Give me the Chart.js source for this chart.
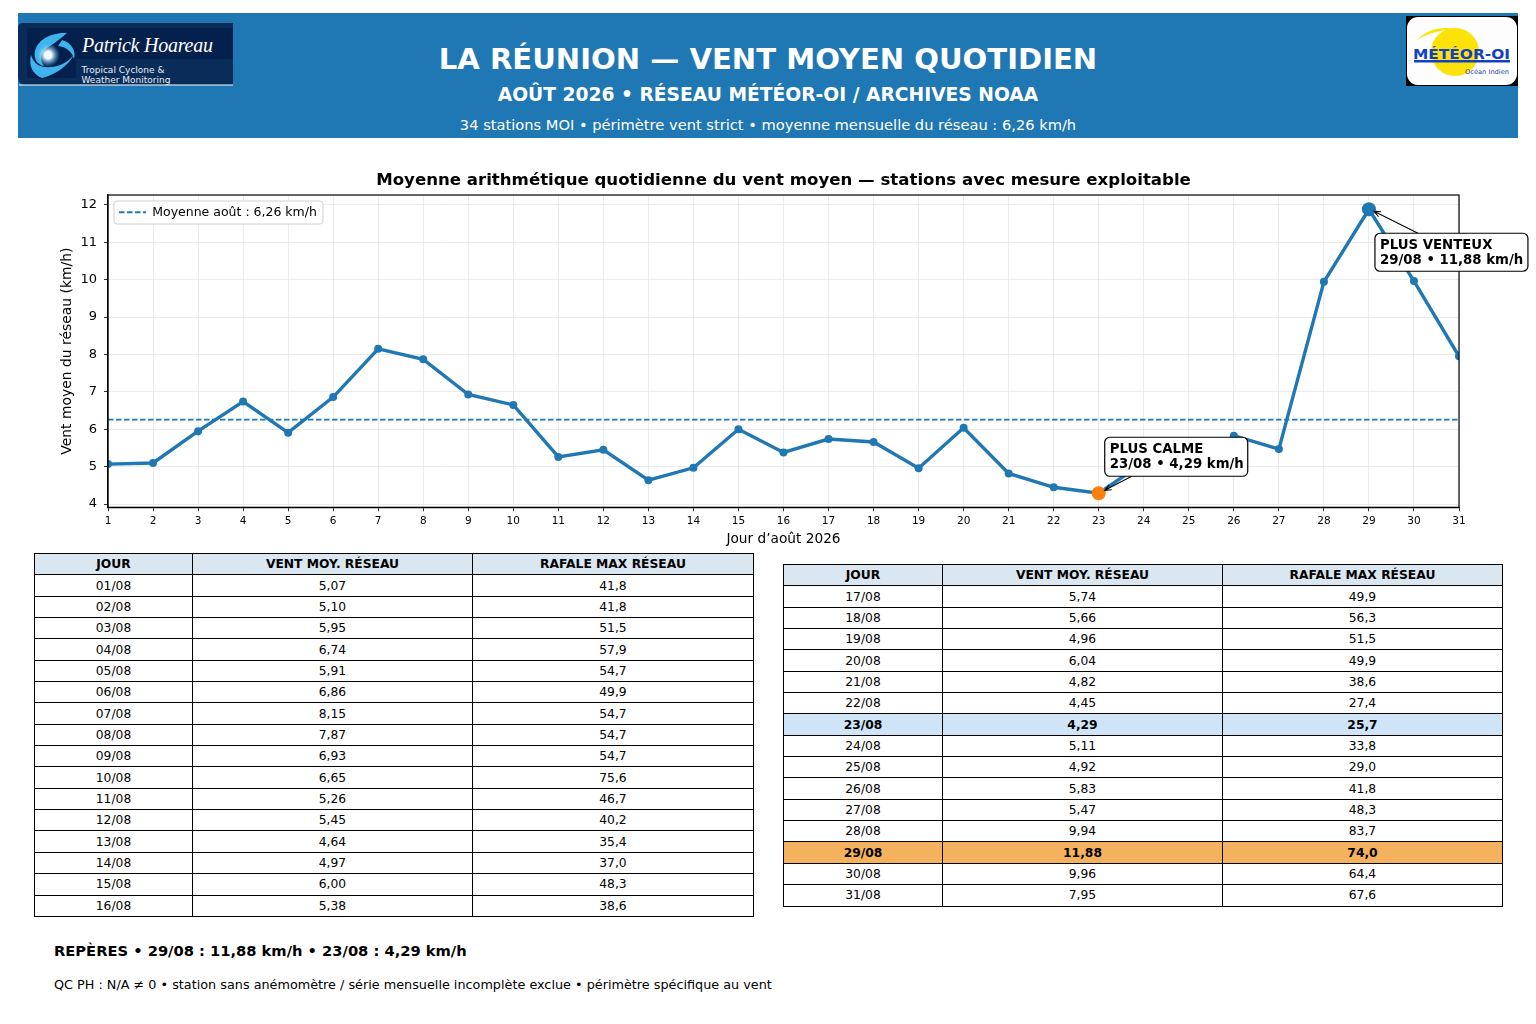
<!DOCTYPE html>
<html lang="fr">
<head>
<meta charset="utf-8">
<title>La Réunion — vent moyen quotidien</title>
<script src="https://cdn.jsdelivr.net/npm/chart.js@4"></script>
<style>
  html, body { margin: 0; padding: 0; background: #fff; }
  body { position: relative; width: 1536px; height: 1024px; overflow: hidden; font-family: "DejaVu Sans", sans-serif; color: #000; }
  .abs { position: absolute; }
  #banner { left: 18px; top: 13px; width: 1500px; height: 125px; background: #1f77b4; }
  .head { left: 18px; width: 1500px; text-align: center; color: #fff; white-space: nowrap; transform: translateY(-50%); }
  #h1 { top: 59px; font-size: 29.1px; font-weight: bold; }
  #h2 { top: 94px; font-size: 18.7px; font-weight: bold; }
  #h3 { top: 123.5px; font-size: 14.65px; }
  #chartBox { left: 0; top: 160px; width: 1536px; height: 390px; }
  table { position: absolute; border-collapse: collapse; table-layout: fixed; font-size: 12.3px; }
  td, th { box-sizing: border-box; border: 1px solid #000; padding: 0; text-align: center; height: 21.35px; line-height: 12px; }
  th { background: #dae6f0; }
  tr.calm td { background: #cfe4f7; font-weight: bold; }
  tr.windy td { background: #f4b25f; font-weight: bold; }
  #repere { left: 54px; top: 949.5px; font-size: 14.7px; font-weight: bold; transform: translateY(-50%); white-space: nowrap; }
  #qc { left: 54px; top: 984px; font-size: 12.8px; transform: translateY(-50%); white-space: nowrap; }
</style>
</head>
<body>
<div id="banner" class="abs"></div>

<svg class="abs" style="left:18px;top:23px" width="216" height="64" viewBox="0 0 216 64">
  <defs>
    <radialGradient id="eye"><stop offset="0.3" stop-color="#f2fbff"/><stop offset="1" stop-color="#3db4ee" stop-opacity="0"/></radialGradient>
  </defs>
  <path d="M5 0H215V62H8Q0 62 0 54V5Q0 0 5 0Z" fill="#0a2c58"/>
  <rect x="9" y="5" width="206" height="31" fill="#04204c"/>
  <rect x="9" y="5" width="49" height="50" fill="#04204c"/>
  <path d="M1 62H215" stroke="#fff" stroke-width="1.2"/>
  <g fill="#3db4ee">
    <path d="M49 10C36 9 20 15 17 28C15 36 20 42 26 43C20 36 24 27 32 23C37 20 43 15 49 10Z"/>
    <path d="M13 32C10 44 16 52 24 55C36 52 50 44 57 30C52 38 42 44 32 44C24 45 16 42 13 32Z"/>
    <path d="M44 17C54 20 58 28 56 36C54 28 48 24 40 23Z"/>
  </g>
  <circle cx="30" cy="32" r="12" fill="url(#eye)"/>
  <text x="64" y="29" font-family="'Liberation Serif', serif" font-style="italic" font-size="20" fill="#fff" textLength="131" lengthAdjust="spacing">Patrick Hoareau</text>
  <text x="63.500" y="49.500" font-family="'DejaVu Sans', sans-serif" font-size="9" fill="#e6eef6" textLength="83">Tropical Cyclone &amp;</text>
  <text x="63.500" y="59.500" font-family="'DejaVu Sans', sans-serif" font-size="9" fill="#e6eef6" textLength="89">Weather Monitoring</text>
</svg>

<svg class="abs" style="left:1406px;top:16px" width="112" height="70" viewBox="0 0 112 70">
  <rect width="112" height="70" fill="#000"/>
  <rect x="1" y="1" width="110" height="68" rx="11" fill="#fdfdfd"/>
  <circle cx="49" cy="36" r="24" fill="#fde20a"/>
  <path d="M11 24C21 13 36 10 48 13C36 14 22 17 11 24Z" fill="#fde20a"/>
  <text x="7" y="43" font-family="'DejaVu Sans', sans-serif" font-weight="bold" font-size="14.500" fill="#1240c4" textLength="97" lengthAdjust="spacingAndGlyphs">MÉTÉOR-OI</text>
  <rect x="8" y="44" width="96" height="2.500" fill="#1240c4"/>
  <text x="59" y="58" font-family="'DejaVu Sans', sans-serif" font-size="6.500" fill="#1f3fa8" textLength="44" lengthAdjust="spacingAndGlyphs">Océan Indien</text>
</svg>

<div id="h1" class="abs head">LA RÉUNION — VENT MOYEN QUOTIDIEN</div>
<div id="h2" class="abs head">AOÛT 2026 • RÉSEAU MÉTÉOR-OI / ARCHIVES NOAA</div>
<div id="h3" class="abs head">34 stations MOI • périmètre vent strict • moyenne mensuelle du réseau : 6,26 km/h</div>

<div id="chartBox" class="abs"><canvas id="windChart" width="1536" height="390"></canvas></div>

<table id="tableLeft" style="left:34px;top:553px;width:719px"></table>
<table id="tableRight" style="left:783px;top:564px;width:719px"></table>

<div id="repere" class="abs">REPÈRES • 29/08 : 11,88 km/h • 23/08 : 4,29 km/h</div>
<div id="qc" class="abs">QC PH : N/A ≠ 0 • station sans anémomètre / série mensuelle incomplète exclue • périmètre spécifique au vent</div>

<script>
const days = [1,2,3,4,5,6,7,8,9,10,11,12,13,14,15,16,17,18,19,20,21,22,23,24,25,26,27,28,29,30,31];
const windAvg = [5.07,5.10,5.95,6.74,5.91,6.86,8.15,7.87,6.93,6.65,5.26,5.45,4.64,4.97,6.00,5.38,
                 5.74,5.66,4.96,6.04,4.82,4.45,4.29,5.11,4.92,5.83,5.47,9.94,11.88,9.96,7.95];
const gustMax = [41.8,41.8,51.5,57.9,54.7,49.9,54.7,54.7,54.7,75.6,46.7,40.2,35.4,37.0,48.3,38.6,
                 49.9,56.3,51.5,49.9,38.6,27.4,25.7,33.8,29.0,41.8,48.3,83.7,74.0,64.4,67.6];
const tableHeaders = ["JOUR", "VENT MOY. RÉSEAU", "RAFALE MAX RÉSEAU"];
const monthMean = 6.26;
const calmDay = 23;
const windyDay = 29;

const BLUE = "#1f77b4";
const ORANGE = "#ff7f0e";

const comma = (v, d) => v.toFixed(d).replace(".", ",");
const dayLabel = d => String(d).padStart(2, "0") + "/08";
const pointOf = d => ({ x: d, y: windAvg[days.indexOf(d)] });

// tables
function fillTable(id, from, to, colWidths) {
  let html = "<colgroup>" + colWidths.map(w => `<col style="width:${w}px">`).join("") + "</colgroup>";
  html += "<tr>" + tableHeaders.map(h => `<th>${h}</th>`).join("") + "</tr>";
  days.forEach((d, i) => {
    if (d < from || d > to) return;
    const cls = d === calmDay ? "calm" : d === windyDay ? "windy" : "";
    html += `<tr class="${cls}"><td>${dayLabel(d)}</td><td>${comma(windAvg[i], 2)}</td><td>${comma(gustMax[i], 1)}</td></tr>`;
  });
  document.getElementById(id).innerHTML = html;
}
fillTable("tableLeft", 1, 16, [158, 280, 281]);
fillTable("tableRight", 17, 31, [159, 280, 280]);

// callouts, offsets are relative to the marked point
const callouts = [
  { day: windyDay, lines: ["PLUS VENTEUX", "29/08 • " + comma(windAvg[windyDay - 1], 2) + " km/h"], dx: 6, dy: 24, w: 153, h: 38, ax: 43, ay: 0, tipX: 5, tipY: 2 },
  { day: calmDay, lines: ["PLUS CALME", "23/08 • " + comma(windAvg[calmDay - 1], 2) + " km/h"], dx: 6, dy: -56, w: 143, h: 39, ax: 27, ay: 39, tipX: 6, tipY: -3 }
];

const extras = {
  id: "extras",
  beforeDraw(chart) {
    // the legend keeps top = 0 when it sits in the chart area
    chart.legend.top = chart.chartArea.top;
  },
  afterDatasetsDraw(chart) {
    const { ctx, chartArea: a, scales } = chart;
    ctx.save();
    ctx.strokeStyle = "#000";
    ctx.lineWidth = 1.2;
    ctx.strokeRect(a.left, a.top, a.right - a.left, a.bottom - a.top);

    // legend frame, legend is repainted on top of it
    ctx.beginPath();
    ctx.roundRect(a.left + 6, a.top + 6, 209, 23, 3);
    ctx.fillStyle = "#fff";
    ctx.fill();
    ctx.strokeStyle = "#d0d0d0";
    ctx.lineWidth = 1;
    ctx.stroke();
    ctx.restore();
    chart.legend.draw();
    ctx.save();

    callouts.forEach(c => {
      const px = scales.x.getPixelForValue(c.day);
      const py = scales.y.getPixelForValue(windAvg[days.indexOf(c.day)]);
      const bx = px + c.dx, by = py + c.dy;
      const ex = bx + c.ax, ey = by + c.ay;
      const tx = px + c.tipX, ty = py + c.tipY;
      const ang = Math.atan2(ty - ey, tx - ex);
      ctx.strokeStyle = "#000";
      ctx.lineWidth = 1.1;
      ctx.beginPath();
      ctx.moveTo(ex, ey);
      ctx.lineTo(tx, ty);
      ctx.moveTo(tx - 7 * Math.cos(ang - 0.4), ty - 7 * Math.sin(ang - 0.4));
      ctx.lineTo(tx, ty);
      ctx.lineTo(tx - 7 * Math.cos(ang + 0.4), ty - 7 * Math.sin(ang + 0.4));
      ctx.stroke();

      ctx.beginPath();
      ctx.roundRect(bx, by, c.w, c.h, 5);
      ctx.fillStyle = "#fff";
      ctx.fill();
      ctx.lineWidth = 1.2;
      ctx.stroke();

      ctx.fillStyle = "#000";
      ctx.font = "bold 13.3px 'DejaVu Sans'";
      ctx.textAlign = "left";
      ctx.textBaseline = "middle";
      c.lines.forEach((t, i) => ctx.fillText(t, bx + 5, by + 12.7 + i * 15));
    });
    ctx.restore();
  }
};

new Chart(document.getElementById("windChart"), {
  type: "line",
  data: {
    datasets: [
      {
        label: "Vent moyen",
        data: days.map(pointOf),
        borderColor: BLUE,
        backgroundColor: BLUE,
        borderWidth: 3.4,
        pointRadius: 4,
        pointBorderWidth: 0,
        tension: 0,
        clip: 0,
        order: 1
      },
      {
        label: "Moyenne août : " + comma(monthMean, 2) + " km/h",
        data: [{ x: days[0], y: monthMean }, { x: days[days.length - 1], y: monthMean }],
        borderColor: BLUE,
        backgroundColor: BLUE,
        borderWidth: 1.8,
        borderDash: [5.5, 2.5],
        pointRadius: 0,
        pointStyle: "line",
        order: 2
      },
      {
        label: "Plus calme",
        data: [pointOf(calmDay)],
        showLine: false,
        backgroundColor: ORANGE,
        pointRadius: 7,
        pointBorderWidth: 0,
        order: 0
      },
      {
        label: "Plus venteux",
        data: [pointOf(windyDay)],
        showLine: false,
        backgroundColor: BLUE,
        pointRadius: 7,
        pointBorderWidth: 0,
        order: 0
      }
    ]
  },
  options: {
    responsive: false,
    animation: false,
    layout: { padding: { right: 77, left: 59, top: 0, bottom: 0 } },
    scales: {
      x: {
        type: "linear",
        min: 1,
        max: 31,
        afterFit: s => { s.height = 42.7; },
        title: { display: true, text: "Jour d’août 2026", color: "#000", font: { family: "'DejaVu Sans'", size: 13.7 }, padding: { top: 0, bottom: 2 } },
        ticks: { stepSize: 1, autoSkip: false, maxRotation: 0, color: "#000", font: { family: "'DejaVu Sans'", size: 10.5 }, padding: 4, includeBounds: false },
        grid: { color: "#e6e6e6", tickColor: "#000", tickLength: 4, lineWidth: 0.8 },
        border: { color: "#000", width: 1.2 }
      },
      y: {
        min: 3.915,
        max: 12.26,
        afterFit: s => { s.width = 49; },
        title: { display: true, text: "Vent moyen du réseau (km/h)", color: "#000", font: { family: "'DejaVu Sans'", size: 13.9 }, padding: { top: 0, bottom: 0 } },
        ticks: { stepSize: 1, color: "#000", font: { family: "'DejaVu Sans'", size: 13 }, padding: 7, includeBounds: false },
        grid: { color: "#e6e6e6", tickColor: "#000", tickLength: 4, lineWidth: 0.8 },
        border: { color: "#000", width: 1.2 }
      }
    },
    plugins: {
      title: {
        display: true,
        fullSize: false,
        text: "Moyenne arithmétique quotidienne du vent moyen — stations avec mesure exploitable",
        color: "#000",
        font: { family: "'DejaVu Sans'", size: 16.6, weight: "bold", lineHeight: 1.2 },
        padding: { top: 11, bottom: 4.1 }
      },
      legend: {
        position: "chartArea",
        align: "start",
        labels: {
          generateLabels(chart) {
            return Chart.defaults.plugins.legend.labels.generateLabels(chart)
              .filter(item => item.datasetIndex === 1)
              .map(item => Object.assign(item, { lineDash: chart.data.datasets[1].borderDash }));
          },
          usePointStyle: true,
          pointStyleWidth: 27,
          color: "#000",
          font: { family: "'DejaVu Sans'", size: 12.5 },
          padding: 11
        }
      },
      tooltip: { enabled: false }
    }
  },
  plugins: [extras]
});
</script>
</body>
</html>
